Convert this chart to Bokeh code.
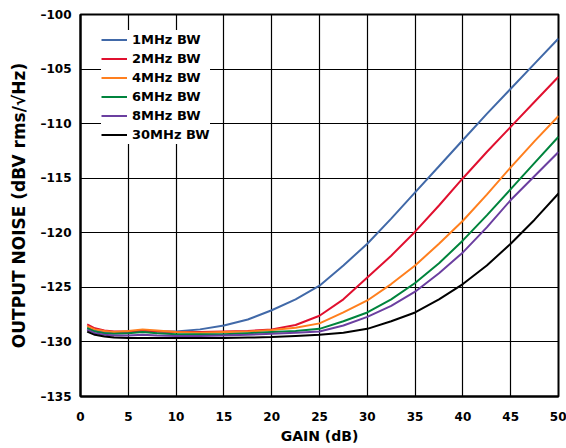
from bokeh.plotting import figure
from bokeh.models import Legend, LegendItem, FixedTicker, Range1d
from bokeh.embed import file_html
from bokeh.resources import INLINE

gain = [0.7, 1.5, 2.5, 3.5, 5, 6.5, 8, 10, 12.5, 15, 17.5, 20, 22.5, 25, 27.5,
        30, 32.5, 35, 37.5, 40, 42.5, 45, 47.5, 50]

noise_1mhz = [-128.7, -128.95, -129.1, -129.15, -129.1, -129.0, -129.05, -129.05,
              -128.85, -128.5, -127.95, -127.1, -126.1, -124.85, -123.0, -121.0,
              -118.7, -116.3, -113.9, -111.5, -109.1, -106.8, -104.5, -102.2]
noise_2mhz = [-128.4, -128.75, -128.95, -129.05, -129.05, -128.95, -129.05, -129.1,
              -129.1, -129.05, -129.0, -128.85, -128.45, -127.6, -126.1, -124.1,
              -122.1, -119.9, -117.5, -115.0, -112.6, -110.3, -108.0, -105.7]
noise_4mhz = [-128.55, -128.85, -129.0, -129.1, -129.0, -128.85, -128.95, -129.1,
              -129.15, -129.1, -129.05, -128.9, -128.7, -128.3, -127.3, -126.2,
              -124.7, -123.0, -121.0, -118.9, -116.5, -114.0, -111.6, -109.3]
noise_6mhz = [-128.75, -129.05, -129.2, -129.25, -129.2, -129.1, -129.2, -129.3,
              -129.3, -129.3, -129.2, -129.1, -129.0, -128.8, -128.1, -127.3,
              -126.1, -124.6, -122.8, -120.7, -118.4, -116.0, -113.6, -111.2]
noise_8mhz = [-128.9, -129.2, -129.35, -129.4, -129.4, -129.35, -129.4, -129.45,
              -129.45, -129.4, -129.35, -129.25, -129.15, -129.05, -128.5, -127.7,
              -126.7, -125.4, -123.7, -121.8, -119.5, -117.0, -114.8, -112.6]
noise_30mhz = [-129.05, -129.35, -129.5, -129.6, -129.65, -129.65, -129.65, -129.65,
               -129.65, -129.65, -129.6, -129.55, -129.45, -129.35, -129.15, -128.8,
               -128.1, -127.3, -126.1, -124.7, -123.0, -121.0, -118.8, -116.4]

series_labels = ["1MHz BW", "2MHz BW", "4MHz BW", "6MHz BW", "8MHz BW", "30MHz BW"]
series_colors = ["#4169a8", "#e0102f", "#ff7f1e", "#00843d", "#6b3fa0", "#000000"]
series_values = [noise_1mhz, noise_2mhz, noise_4mhz, noise_6mhz, noise_8mhz, noise_30mhz]

x_ticks = [0, 5, 10, 15, 20, 25, 30, 35, 40, 45, 50]
y_ticks = [-135, -130, -125, -120, -115, -110, -105, -100]
y_tick_labels = ["–135", "–130", "–125", "–120", "–115", "–110", "–105", "–100"]

FONT = "DejaVu Sans"

p = figure(frame_width=478, frame_height=382, output_backend="svg",
           toolbar_location=None, x_range=Range1d(0, 50), y_range=Range1d(-135, -100),
           min_border_left=80, min_border_right=8, min_border_top=14, min_border_bottom=44)
p.background_fill_color = "white"
p.border_fill_color = "white"
p.outline_line_color = "black"
p.outline_line_width = 2

items = []
for lab, col, vals in zip(series_labels, series_colors, series_values):
    r = p.line(gain, vals, line_color=col, line_width=2)
    items.append(LegendItem(label=lab, renderers=[r]))

for ax in (p.xaxis[0], p.yaxis[0]):
    ax.axis_line_color = "black"
    ax.axis_line_width = 2
    ax.major_tick_in = 0
    ax.major_tick_out = 0
    ax.minor_tick_in = 0
    ax.minor_tick_out = 0
    ax.major_label_text_font = FONT
    ax.major_label_text_font_style = "bold"
    ax.major_label_text_font_size = "12px"
    ax.major_label_text_color = "black"
    ax.axis_label_text_font = FONT
    ax.axis_label_text_font_style = "bold"
    ax.axis_label_text_color = "black"

p.xaxis[0].ticker = FixedTicker(ticks=x_ticks)
p.yaxis[0].ticker = FixedTicker(ticks=y_ticks)
p.yaxis[0].major_label_overrides = {t: s for t, s in zip(y_ticks, y_tick_labels)}
p.xaxis[0].axis_label = "GAIN (dB)"
p.yaxis[0].axis_label = "OUTPUT NOISE (dBV rms/√Hz)"
p.xaxis[0].axis_label_text_font_size = "14px"
p.yaxis[0].axis_label_text_font_size = "17px"
p.xaxis[0].major_label_standoff = 15
p.yaxis[0].major_label_standoff = 9
p.xaxis[0].axis_label_standoff = 4
p.yaxis[0].axis_label_standoff = 8

for g in (p.xgrid[0], p.ygrid[0]):
    g.grid_line_color = "black"
    g.grid_line_width = 1.2
    g.grid_line_alpha = 1.0
p.xgrid[0].ticker = FixedTicker(ticks=x_ticks)
p.ygrid[0].ticker = FixedTicker(ticks=y_ticks)

legend = Legend(items=items, location=(21, 252), margin=0, padding=4,
                spacing=0, label_height=19, glyph_height=19, glyph_width=26,
                label_standoff=5, border_line_color=None,
                background_fill_color="white", background_fill_alpha=1.0,
                label_text_font=FONT, label_text_font_style="bold",
                label_text_font_size="13px", label_text_color="black")
p.add_layout(legend)

open("out.html", "w").write(file_html(p, INLINE))
